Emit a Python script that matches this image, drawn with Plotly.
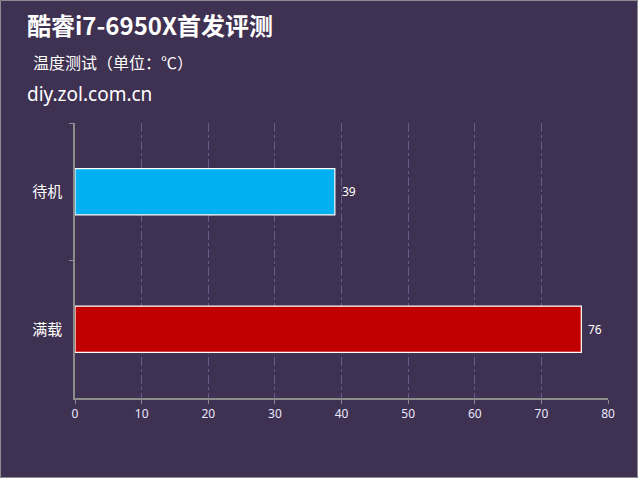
import plotly.graph_objects as go

categories = ["待机", "满载"]
values = [39, 76]
colors = ["#00b0f0", "#c00000"]
x_ticks = [0, 10, 20, 30, 40, 50, 60, 70, 80]

W, H = 638, 478
L, R, T, B = 75, 30, 123, 80
PW, PH = W - L - R, H - T - B

def px(x):
    return (x - L) / PW

def py(y):
    return (H - B - y) / PH

bg = "#3f3151"
fig = go.Figure()
fig.add_trace(go.Bar(
    y=categories, x=values, orientation="h",
    marker=dict(color=colors, line=dict(color="white", width=1.2)),
    width=0.335, hoverinfo="x+y",
))

annotations = [
    dict(text="<b>酷睿i7-6950X首发评测</b>", xref="paper", yref="paper",
         x=px(25), y=py(25), xanchor="left", yanchor="middle", showarrow=False,
         font=dict(size=24, color="white", family="Noto Sans CJK SC")),
    dict(text="温度测试（单位：℃）", xref="paper", yref="paper",
         x=px(31), y=py(62), xanchor="left", yanchor="middle", showarrow=False,
         font=dict(size=16, color="white", family="Noto Sans CJK SC")),
    dict(text="diy.zol.com.cn", xref="paper", yref="paper",
         x=px(25), y=py(94), xanchor="left", yanchor="middle", showarrow=False,
         font=dict(size=19, color="white", family="Noto Sans, DejaVu Sans")),
]
for c, v in zip(categories, values):
    annotations.append(dict(text=str(v), x=v, y=c, xref="x", yref="y",
                            xanchor="left", yanchor="middle", xshift=5,
                            showarrow=False,
                            font=dict(size=12, color="white", family="Noto Sans, DejaVu Sans")))

fig.update_layout(
    width=W, height=H,
    margin=dict(l=L, r=R, t=T, b=B),
    paper_bgcolor=bg, plot_bgcolor=bg,
    showlegend=False,
    font=dict(family="Noto Sans CJK SC", color="white"),
    xaxis=dict(
        range=[0, 80], tickvals=x_ticks, ticks="outside", ticklen=4,
        tickcolor="#8c8c8c", showline=True, linecolor="#8c8c8c", linewidth=1.5,
        showgrid=True, gridcolor="#6a5a8a", griddash="dashdot", gridwidth=1,
        zeroline=False, tickfont=dict(size=12, color="#e8e8ff", family="Noto Sans, DejaVu Sans"),
        fixedrange=True,
    ),
    yaxis=dict(
        autorange="reversed", tickson="boundaries", ticks="outside", ticklen=4,
        tickcolor="#8c8c8c", showline=True, linecolor="#8c8c8c", linewidth=1.5,
        showgrid=False, tickfont=dict(size=15, color="white", family="Noto Sans CJK SC"),
        ticklabelstandoff=8,
    ),
    annotations=annotations,
    shapes=[
        dict(type="rect", xref="paper", yref="paper",
             x0=px(0.5), x1=px(W - 0.5), y0=py(0.5), y1=py(H - 0.5),
             line=dict(color="#8c8c8c", width=1), layer="below"),
    ],
)

fig.write_html("out.html", config={"displayModeBar": False},
               post_script="document.body.style.margin='0';document.body.style.overflow='hidden';")
